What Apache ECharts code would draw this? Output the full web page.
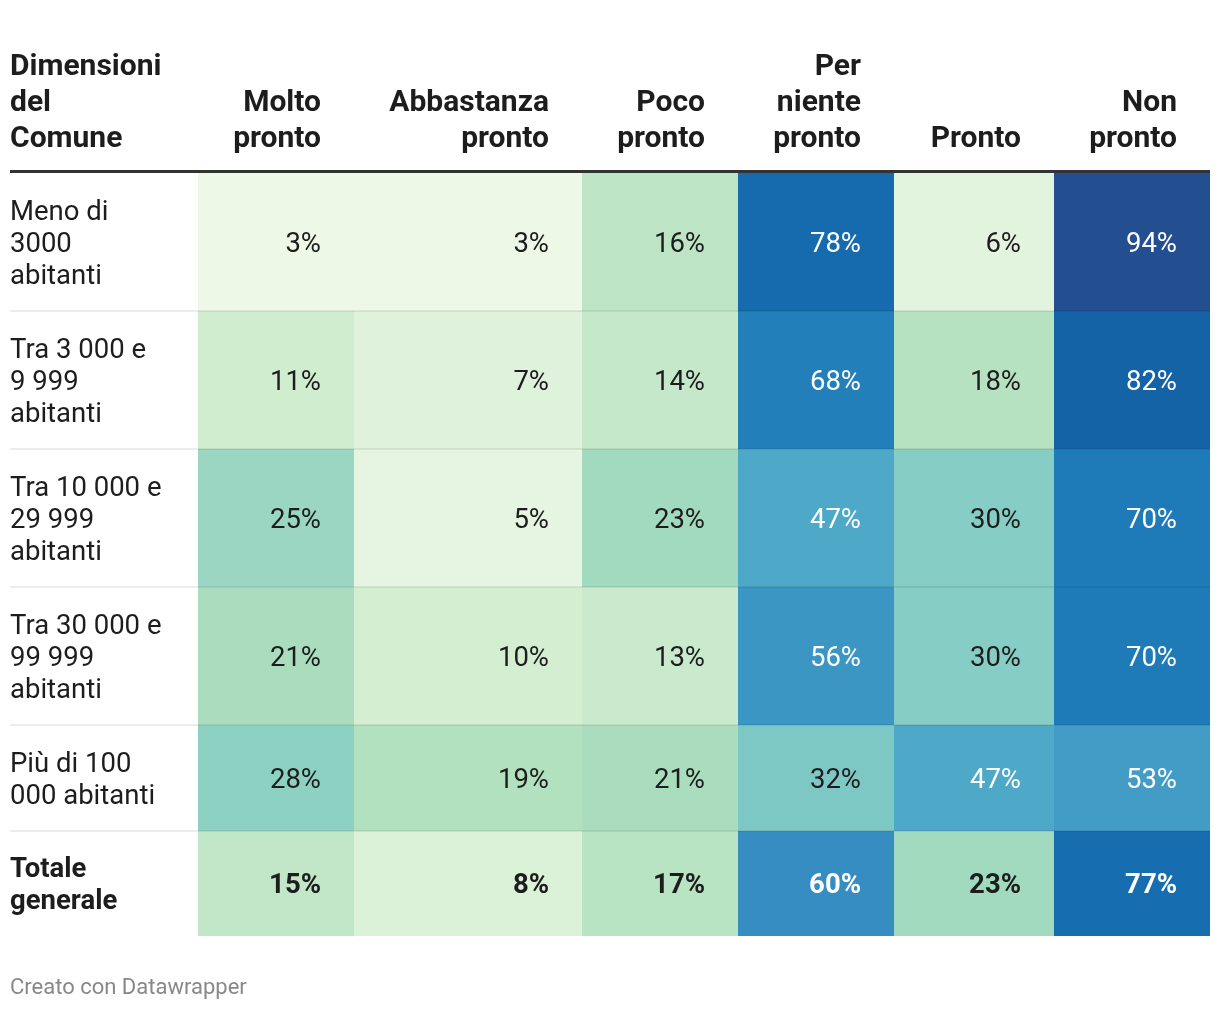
<!DOCTYPE html>
<html>
<head>
<meta charset="utf-8">
<script src="https://cdn.jsdelivr.net/npm/echarts@6/dist/echarts.min.js"></script>
<style>
html,body{margin:0;padding:0;background:#fff;}
#chart{width:1220px;height:1012px;}
</style>
</head>
<body>
<div id="chart"></div>
<script>
// ---- Data ----
const headerLabel = 'Dimensioni\ndel\nComune';
const columns = ['Molto\npronto', 'Abbastanza\npronto', 'Poco\npronto', 'Per\nniente\npronto', 'Pronto', 'Non\npronto'];
const rowLabels = ['Meno di\n3000\nabitanti', 'Tra 3 000 e\n9 999\nabitanti', 'Tra 10 000 e\n29 999\nabitanti', 'Tra 30 000 e\n99 999\nabitanti', 'Più di 100\n000 abitanti', 'Totale\ngenerale'];
const moltoPronto      = [3, 11, 25, 21, 28, 15];
const abbastanzaPronto = [3, 7, 5, 10, 19, 8];
const pocoPronto       = [16, 14, 23, 13, 21, 17];
const perNientePronto  = [78, 68, 47, 56, 32, 60];
const pronto           = [6, 18, 30, 30, 47, 23];
const nonPronto        = [94, 82, 70, 70, 53, 77];
const footer = 'Creato con Datawrapper';

// ---- Layout (weights) ----
const colWeights = [188, 156, 228, 156, 156, 160, 156]; // first = label column
const rowWeights = [138, 138, 138, 138, 106, 105];
const colEdges = [0]; colWeights.forEach(w => colEdges.push(colEdges[colEdges.length - 1] + w));
const rowEdges = [0]; rowWeights.forEach(w => rowEdges.push(rowEdges[rowEdges.length - 1] + w));
const totalW = colEdges[colEdges.length - 1];
const totalH = rowEdges[rowEdges.length - 1];
const FONT = 'Roboto';
const PAD = 33;
const BODY = '27.5px ';
const HEAD = '30px ';

const seriesValues = [moltoPronto, abbastanzaPronto, pocoPronto, perNientePronto, pronto, nonPronto];
const cellData = [];
seriesValues.forEach((arr, c) => arr.forEach((v, r) => cellData.push([c, r, v])));

const chart = echarts.init(document.getElementById('chart'), null, {renderer: 'canvas'});
chart.setOption({
  backgroundColor: '#fff',
  animation: false,
  grid: {left: 10, right: 10, top: 173, bottom: 76},
  xAxis: {type: 'value', min: 0, max: totalW, show: false},
  yAxis: {type: 'value', min: 0, max: totalH, inverse: true, show: false},
  visualMap: {
    show: false, type: 'continuous', min: 0, max: 100, dimension: 2, seriesIndex: 0,
    inRange: {color: ['#f7fcf0', '#d4eed2', '#aedfbd', '#85cdc5', '#5fb5c6', '#47a3c8', '#358dc2', '#1f7bb8', '#1267ab', '#1f5496', '#2a4484']}
  },
  graphic: [
    {type: 'rect', left: 10, top: 170, shape: {width: 1200, height: 3}, style: {fill: '#333333'}, z: 10},
    {type: 'text', left: 10, top: 977, style: {text: footer, fill: '#888888', font: '22px Roboto'}}
  ],
  series: [
    {
      type: 'custom',
      data: cellData,
      clip: false,
      renderItem: function (params, api) {
        const c = api.value(0), r = api.value(1), v = api.value(2);
        const p0 = api.coord([colEdges[c + 1], rowEdges[r]]);
        const p1 = api.coord([colEdges[c + 2], rowEdges[r + 1]]);
        const light = v >= 40;
        return {
          type: 'group',
          children: [
            {type: 'rect', shape: {x: p0[0], y: p0[1], width: p1[0] - p0[0], height: p1[1] - p0[1]}, style: {fill: api.visual('color')}},
            {type: 'text', style: {
              x: p1[0] - PAD, y: (p0[1] + p1[1]) / 2 + 3, text: v + '%', align: 'right', verticalAlign: 'middle',
              fill: light ? '#ffffff' : '#1d1d1d',
              font: (r === rowLabels.length - 1 ? 'bold ' : '') + BODY + FONT
            }}
          ]
        };
      }
    },
    {
      type: 'custom',
      data: rowLabels.map((l, i) => [i]),
      clip: false,
      renderItem: function (params, api) {
        const r = api.value(0);
        const p0 = api.coord([0, rowEdges[r]]);
        const p1 = api.coord([totalW, rowEdges[r + 1]]);
        const children = [
          {type: 'text', style: {
            x: p0[0], y: (p0[1] + p1[1]) / 2 + 3, text: rowLabels[r], align: 'left', verticalAlign: 'middle',
            lineHeight: 32, fill: '#1d1d1d',
            font: (r === rowLabels.length - 1 ? 'bold ' : '') + BODY + FONT
          }}
        ];
        if (r > 0) {
          children.push({type: 'rect', shape: {x: p0[0], y: p0[1] - 1, width: p1[0] - p0[0], height: 2}, style: {fill: 'rgba(0,0,0,0.07)'}});
        }
        return {type: 'group', children: children};
      }
    },
    {
      type: 'custom',
      data: [headerLabel].concat(columns).map((l, i) => [i]),
      clip: false,
      renderItem: function (params, api) {
        const i = api.value(0);
        const top = api.coord([0, 0])[1];
        let x, align, text;
        if (i === 0) {
          x = api.coord([0, 0])[0]; align = 'left'; text = headerLabel;
        } else {
          x = api.coord([colEdges[i + 1], 0])[0] - PAD; align = 'right'; text = columns[i - 1];
        }
        return {type: 'text', style: {
          x: x, y: top - 16, text: text, align: align, verticalAlign: 'bottom',
          lineHeight: 36, fill: '#1d1d1d', font: 'bold ' + HEAD + FONT
        }};
      }
    }
  ]
});
</script>
</body>
</html>
